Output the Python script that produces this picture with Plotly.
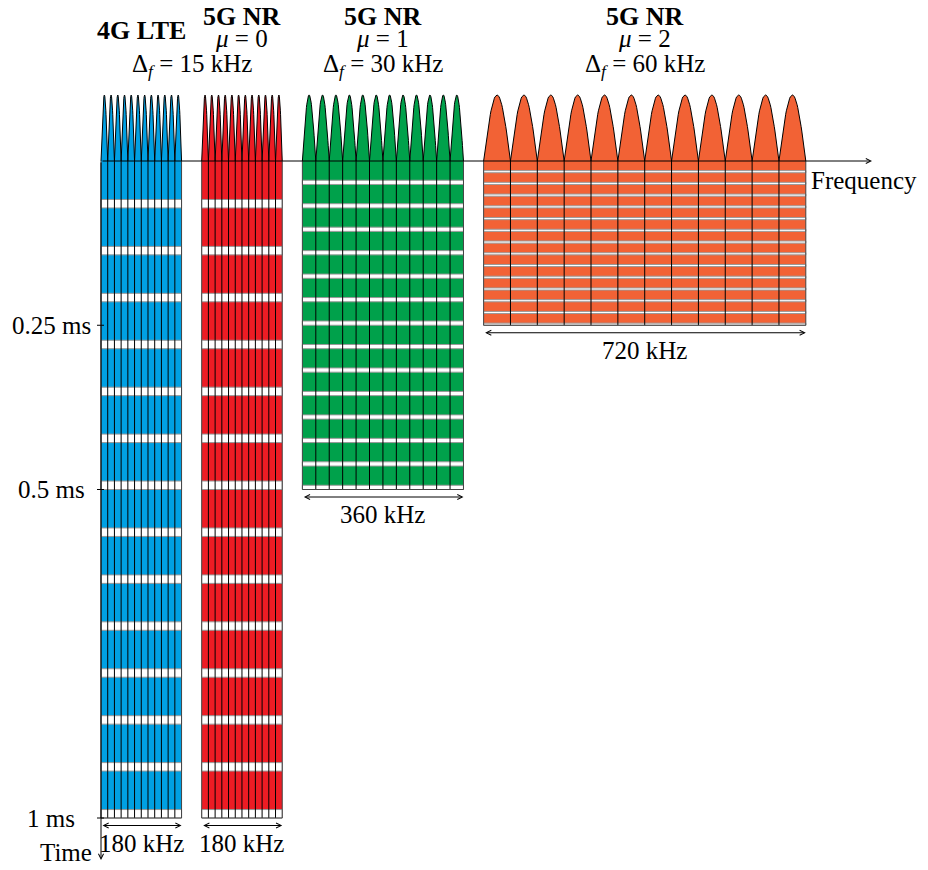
import plotly.graph_objects as go
import numpy as np

# numerologies, left to right
tech_names = ['4G LTE', '5G NR', '5G NR', '5G NR']
mu_values = [None, 0, 1, 2]
spacing_khz = [15, 15, 30, 60]        # subcarrier spacing
symbols_ms = [1.0, 1.0, 0.5, 0.25]    # time taken by the 14 symbols
n_subcarriers = 12
n_symbols = 14
cp_fraction = 0.18                    # share of each symbol that is cyclic prefix
bandwidth_labels = ['180 kHz', '180 kHz', '360 kHz', '720 kHz']
time_ticks = [0.25, 0.5, 1.0]
time_tick_labels = ['0.25 ms', '0.5 ms', '1 ms']

colors = ['#00A0E3', '#ED1C24', '#00A14B', '#F26235']

# the page body keeps an 8px margin, so the figure is 16px smaller than the window
PAGE_MARGIN = 8
W, H = 928 - 2 * PAGE_MARGIN, 870 - 2 * PAGE_MARGIN
PX_KHZ = 0.4475   # pixels per kHz
PX_MS = 657.0     # pixels per ms
X0_PX, Y0_PX = 101, 161   # origin in window pixels
gap_khz = 45


def dx(px):
    return px / PX_KHZ


def dy(px):
    return px / PX_MS


font = 'Liberation Serif'
fsize = 25
bold_size = 26

fig = go.Figure()
annotations = []

# block start positions along the frequency axis
starts = []
pos = 0
for s in spacing_khz:
    starts.append(pos)
    pos += s * n_subcarriers + gap_khz

t = np.linspace(0, 1, 41)
bump_h = dy(66)

for b in range(len(spacing_khz)):
    x0 = starts[b]
    w = spacing_khz[b]
    x1 = x0 + w * n_subcarriers
    dur = symbols_ms[b]
    T = dur / n_symbols

    # coloured resource grid
    fig.add_trace(go.Scatter(x=[x0, x1, x1, x0, x0], y=[0, 0, dur, dur, 0], mode='lines',
                             fill='toself', fillcolor=colors[b], line=dict(width=0),
                             hoverinfo='skip', showlegend=False))

    # cyclic prefix strips
    cx, cy = [], []
    for i in range(n_symbols):
        ya = i * T + T * (1 - cp_fraction)
        yb = (i + 1) * T
        cx += [x0, x1, x1, x0, x0, None]
        cy += [ya, ya, yb, yb, ya, None]
    fig.add_trace(go.Scatter(x=cx, y=cy, mode='lines', fill='toself', fillcolor='white',
                             line=dict(color='#9a9a9a', width=1),
                             hoverinfo='skip', showlegend=False))

    # subcarrier separators
    vx, vy = [], []
    for c in range(1, n_subcarriers):
        xc = x0 + c * w
        vx += [xc, xc, None]
        vy += [0, dur, None]
    fig.add_trace(go.Scatter(x=vx, y=vy, mode='lines', line=dict(color='black', width=1),
                             hoverinfo='skip', showlegend=False))

    # outline
    fig.add_trace(go.Scatter(x=[x0, x0, x1, x1], y=[0, dur, dur, 0], mode='lines',
                             line=dict(color='#444444', width=1),
                             hoverinfo='skip', showlegend=False))

    # subcarrier spectra
    bx, by = [], []
    for c in range(n_subcarriers):
        bx += list(x0 + c * w + t * w) + [None]
        by += list(-bump_h * np.sin(np.pi * t)) + [None]
    fig.add_trace(go.Scatter(x=bx, y=by, mode='lines', fill='toself', fillcolor=colors[b],
                             line=dict(color='black', width=1),
                             hoverinfo='skip', showlegend=False))

    # bandwidth dimension
    ya = dur + dy(7.5)
    annotations.append(dict(x=x1, y=ya, ax=x0, ay=ya, xref='x', yref='y', axref='x', ayref='y',
                            text='', showarrow=True, arrowhead=5, arrowside='end+start',
                            arrowwidth=1, arrowsize=1, arrowcolor='black', standoff=0,
                            startstandoff=0))
    annotations.append(dict(x=(x0 + x1) / 2, y=dur + dy(25), text=bandwidth_labels[b],
                            showarrow=False, xanchor='center', yanchor='middle'))

    # headings
    xm = (x0 + x1) / 2
    if mu_values[b] is None:
        annotations.append(dict(x=xm, y=dy(30 - Y0_PX), text='<b>' + tech_names[b] + '</b>',
                                showarrow=False, yanchor='middle', font=dict(size=bold_size)))
    else:
        annotations.append(dict(x=xm, y=dy(16 - Y0_PX), text='<b>' + tech_names[b] + '</b>',
                                showarrow=False, yanchor='middle', font=dict(size=bold_size)))
        annotations.append(dict(x=xm, y=dy(38.5 - Y0_PX), text='<i>μ</i> = %d' % mu_values[b],
                                showarrow=False, yanchor='middle'))

# subcarrier spacing labels, shared when neighbours have the same spacing
done = set()
for b, s in enumerate(spacing_khz):
    if s in done:
        continue
    done.add(s)
    idx = [k for k in range(len(spacing_khz)) if spacing_khz[k] == s]
    left = starts[idx[0]]
    right = starts[idx[-1]] + s * n_subcarriers
    annotations.append(dict(x=(left + right) / 2, y=dy(65.5 - Y0_PX),
                            text='Δ<sub><i>f</i></sub> = %d kHz' % s,
                            showarrow=False, yanchor='middle'))

# axes
x_end = dx(872 - X0_PX)
y_end = dy(860 - Y0_PX)
annotations.append(dict(x=x_end, y=0, ax=0, ay=0, xref='x', yref='y', axref='x', ayref='y',
                        text='', showarrow=True, arrowhead=5, arrowwidth=1, arrowsize=1,
                        arrowcolor='black', standoff=0))
annotations.append(dict(x=0, y=y_end, ax=0, ay=0, xref='x', yref='y', axref='x', ayref='y',
                        text='', showarrow=True, arrowhead=5, arrowwidth=1, arrowsize=1,
                        arrowcolor='black', standoff=0))
annotations.append(dict(x=dx(919 - X0_PX), y=dy(19), text='Frequency', showarrow=False,
                        xanchor='right', yanchor='middle'))
annotations.append(dict(x=dx(94 - X0_PX), y=dy(852 - Y0_PX), text='Time', showarrow=False,
                        xanchor='right', yanchor='middle'))

tx, ty = [], []
for v, lab in zip(time_ticks, time_tick_labels):
    tx += [dx(-4), dx(3), None]
    ty += [v, v, None]
    annotations.append(dict(x=dx(51 - X0_PX), y=v, text=lab, showarrow=False,
                            xanchor='center', yanchor='middle'))
fig.add_trace(go.Scatter(x=tx, y=ty, mode='lines', line=dict(color='black', width=1),
                         hoverinfo='skip', showlegend=False))

fig.update_layout(
    width=W, height=H,
    margin=dict(l=0, r=0, t=0, b=0),
    paper_bgcolor='white', plot_bgcolor='white',
    font=dict(family=font, size=fsize, color='black'),
    annotations=annotations,
    xaxis=dict(range=[dx(PAGE_MARGIN - X0_PX), dx(PAGE_MARGIN + W - X0_PX)],
               visible=False, fixedrange=True),
    yaxis=dict(range=[dy(PAGE_MARGIN + H - Y0_PX), dy(PAGE_MARGIN - Y0_PX)],
               visible=False, fixedrange=True),
)

fig.write_html("out.html")
